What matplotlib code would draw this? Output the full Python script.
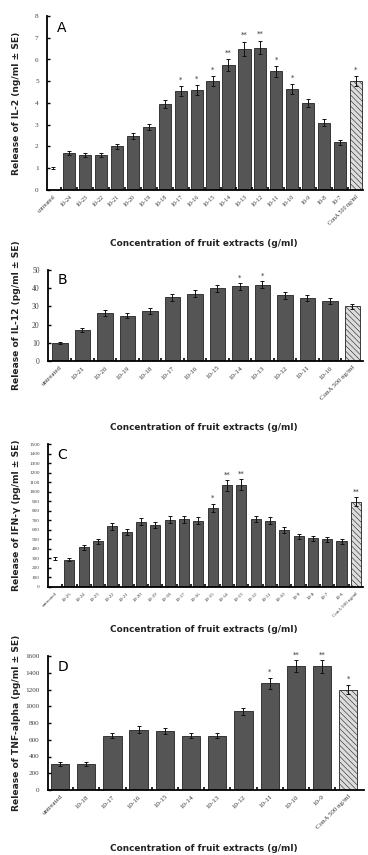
import numpy as np
import matplotlib.pyplot as plt

# panel A - IL-2
cats_a = ['untreated', '10-24', '10-23', '10-22', '10-21', '10-20', '10-19', '10-18',
          '10-17', '10-16', '10-15', '10-14', '10-13', '10-12', '10-11', '10-10',
          '10-9', '10-8', '10-7', 'ConA 500 ng/ml']
vals_a = [1.0, 1.7, 1.6, 1.6, 2.0, 2.5, 2.9, 3.95, 4.55, 4.6, 5.0, 5.75, 6.5, 6.55,
          5.45, 4.65, 4.0, 3.1, 2.2, 5.0]
errs_a = [0.05, 0.08, 0.08, 0.08, 0.1, 0.14, 0.15, 0.2, 0.22, 0.22, 0.22, 0.28, 0.32,
          0.32, 0.25, 0.22, 0.2, 0.15, 0.12, 0.22]
stars_a = ['', '', '', '', '', '', '', '', '*', '*', '*', '**', '**', '**', '*', '*',
           '', '', '', '*']

# panel B - IL-12
cats_b = ['untreated', '10-21', '10-20', '10-19', '10-18', '10-17', '10-16', '10-15',
          '10-14', '10-13', '10-12', '10-11', '10-10', 'ConA 500 ng/ml']
vals_b = [10, 17, 26.5, 25, 27.5, 35, 37, 40, 41, 42, 36, 34.5, 33, 30]
errs_b = [0.5, 1.0, 1.6, 1.2, 1.6, 1.8, 1.8, 2.0, 2.0, 2.0, 1.8, 1.6, 1.8, 1.5]
stars_b = ['', '', '', '', '', '', '', '', '*', '*', '', '', '', '']

# panel C - IFN-gamma
cats_c = ['untreated', '10-25', '10-24', '10-23', '10-22', '10-21', '10-20', '10-19',
          '10-18', '10-17', '10-16', '10-15', '10-14', '10-13', '10-12', '10-11',
          '10-10', '10-9', '10-8', '10-7', '10-6', 'ConA 500 ng/ml']
vals_c = [300, 285, 415, 480, 635, 580, 685, 650, 705, 710, 695, 830, 1065, 1075,
          715, 695, 595, 530, 510, 500, 480, 895]
errs_c = [12, 15, 25, 25, 35, 30, 35, 35, 35, 35, 35, 40, 55, 55, 35, 35, 30, 25,
          25, 25, 25, 45]
stars_c = [''] * 11 + ['*', '**', '**'] + [''] * 7 + ['**']

# panel D - TNF-alpha
cats_d = ['untreated', '10-18', '10-17', '10-16', '10-15', '10-14', '10-13', '10-12',
          '10-11', '10-10', '10-9', 'ConA 500 ng/ml']
vals_d = [310, 310, 650, 720, 700, 650, 650, 940, 1275, 1480, 1475, 1200]
errs_d = [20, 20, 35, 40, 35, 35, 35, 45, 65, 70, 75, 55]
stars_d = ['', '', '', '', '', '', '', '', '*', '**', '**', '*']

plt.rcParams['hatch.linewidth'] = 0.4
plt.rcParams['hatch.color'] = '#777777'

fig = plt.figure(figsize=(3.68, 8.55), dpi=100)


def panel(rect, cats, vals, errs, stars, letter, ylabel, ymax, ystep, xlim,
          width, no_bar0, xlab_y, tick_fs, ytick_fs):
    ax = fig.add_axes(rect)
    n = len(cats)
    x = np.arange(n)
    face = ['#555555'] * (n - 1) + ['#dcdcdc']
    hatch = [None] * (n - 1) + ['\\\\\\\\\\\\']
    for i in range(n):
        if i == 0 and no_bar0:
            continue
        ax.bar(x[i], vals[i], width=width, color=face[i], edgecolor='#222222',
               linewidth=0.6, hatch=hatch[i])
    ax.errorbar(x, vals, yerr=errs, fmt='none', ecolor='#111111', elinewidth=0.7,
                capsize=1.6, capthick=0.7)
    for i in range(n):
        if stars[i]:
            ax.text(x[i], vals[i] + errs[i] + ymax * 0.02, stars[i], ha='center',
                    va='bottom', fontsize=5, color='#333333')
    ax.set_xlim(*xlim)
    ax.set_ylim(0, ymax)
    ax.set_yticks(np.arange(0, ymax + ystep / 2, ystep))
    ax.set_xticks(x)
    ax.set_xticklabels(cats, rotation=45, ha='right', rotation_mode='anchor',
                       fontsize=tick_fs, family='Liberation Serif', color='#333333')
    ax.set_xticks(x[:-1] + 0.5, minor=True)
    ax.tick_params(axis='x', which='major', length=0, pad=3)
    ax.tick_params(axis='x', which='minor', length=2, width=1.2, direction='in')
    ax.tick_params(axis='y', length=2.5, width=1.0, direction='in', pad=6,
                   labelsize=ytick_fs)
    for lab in ax.get_yticklabels():
        lab.set_family('Liberation Serif')
        lab.set_color('#444444')
    ax.spines['top'].set_visible(False)
    ax.spines['right'].set_visible(False)
    ax.spines['left'].set_linewidth(1.3)
    ax.spines['bottom'].set_linewidth(1.3)
    ax.text(0.03, 0.97, letter, transform=ax.transAxes, ha='left', va='top',
            fontsize=10, family='DejaVu Sans')
    ymid = rect[1] + rect[3] / 2
    fig.text(17 / 368, ymid, ylabel, rotation=90, ha='center', va='center',
             fontsize=6.6, fontweight='bold', color='#222222')
    fig.text(0.555, 1 - xlab_y / 855, 'Concentration of fruit extracts (g/ml)',
             ha='center', va='center', fontsize=6.4, fontweight='bold',
             color='#222222')
    return ax


panel([47 / 368, 1 - 190 / 855, 316 / 368, 174 / 855], cats_a, vals_a, errs_a,
      stars_a, 'A', 'Release of IL-2 (ng/ml \u00b1 SE)', 8, 1, (-0.4, 19.45), 0.77,
      True, 243, 4.3, 5.2)
panel([48 / 368, 1 - 361 / 855, 315 / 368, 91 / 855], cats_b, vals_b, errs_b,
      stars_b, 'B', 'Release of IL-12 (pg/ml \u00b1 SE)', 50, 10, (-0.53, 13.47),
      0.68, False, 427, 5.0, 5.5)
panel([48 / 368, 1 - 587 / 855, 315 / 368, 143 / 855], cats_c, vals_c, errs_c,
      stars_c, 'C', 'Release of IFN-\u03b3 (pg/ml \u00b1 SE)', 1500, 100, (-0.49, 21.5),
      0.7, True, 630, 3.6, 3.8)
panel([48 / 368, 1 - 790 / 855, 316 / 368, 134 / 855], cats_d, vals_d, errs_d,
      stars_d, 'D', 'Release of TNF-alpha (pg/ml \u00b1 SE)', 1600, 200, (-0.46, 11.6),
      0.7, False, 848, 5.0, 5.2)

fig.savefig('out.png', dpi=100)
